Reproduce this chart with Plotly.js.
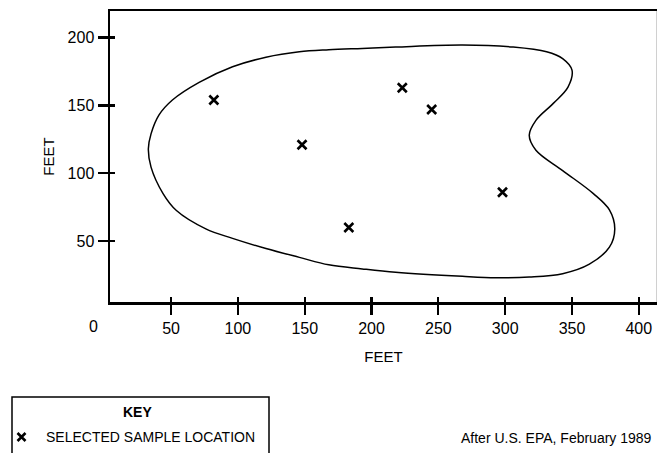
<!DOCTYPE html>
<html>
<head>
<meta charset="utf-8">
<script src="https://cdn.plot.ly/plotly-3.0.1.min.js"></script>
<style>html,body{margin:0;padding:0;background:#fff;}#chart{width:657px;height:453px;}</style>
</head>
<body>
<div id="chart"></div>
<script>
// Selected sample locations (feet)
const sampleX = [82, 148, 223, 245, 298, 183];
const sampleY = [154, 121, 163, 147, 86, 60];

// Site boundary outline (feet), traced clockwise from the left edge
const boundaryX = [33, 35, 41, 51, 71, 96, 121, 146, 168, 193, 218, 268, 306, 331, 343, 350, 347, 336, 323, 318, 323, 343, 366, 378, 382, 378, 363, 343, 318, 293, 268, 218, 193, 168, 146, 121, 96, 76, 54, 44, 35, 33];
const boundaryY = [118, 129, 143, 154, 167, 178.5, 185.5, 189.5, 191, 192, 193, 194.5, 193, 189.5, 184.5, 176, 163.5, 151.5, 139, 128, 117, 102, 85, 73, 59, 45.5, 33, 26, 23.5, 23, 24, 27, 29.5, 32.5, 38, 44.5, 52, 59, 72.5, 85, 104.5, 118];

const xTicks = [50, 100, 150, 200, 250, 300, 350, 400];
const yTicks = [50, 100, 150, 200];
const xRange = [4.3, 413.6];
const yRange = [5.1, 219.6];

const font = 'Liberation Sans, Arial, Helvetica, sans-serif';
const W = 657, H = 453;
const px = v => v / W;
const py = v => (H - v) / H;

const traces = [
  {
    x: boundaryX, y: boundaryY, type: 'scatter', mode: 'lines',
    line: {color: '#000', width: 1.5, shape: 'spline', smoothing: 1},
    hoverinfo: 'skip', showlegend: false
  },
  {
    x: sampleX, y: sampleY, type: 'scatter', mode: 'markers',
    marker: {symbol: 'x-thin', size: 9, line: {color: '#000', width: 2.6}},
    name: 'SELECTED SAMPLE LOCATION', showlegend: false
  },
  {
    x: [null], y: [null], xaxis: 'x2', yaxis: 'y2', type: 'scatter', mode: 'markers',
    hoverinfo: 'skip', showlegend: false
  },
  {
    // key sample symbol
    x: [21.5], y: [16], xaxis: 'x3', yaxis: 'y3', type: 'scatter', mode: 'markers',
    marker: {symbol: 'x-thin', size: 8, line: {color: '#000', width: 2.6}},
    hoverinfo: 'skip', showlegend: false, cliponaxis: false
  }
];

const axisBase = {
  showgrid: false, zeroline: false, automargin: false,
  linecolor: '#000', linewidth: 2.5, tickcolor: '#000', tickwidth: 2.2,
  tickfont: {family: font, size: 16, color: '#000'}, fixedrange: true
};

const layout = {
  width: W, height: H,
  margin: {l: 0, r: 0, t: 0, b: 0},
  paper_bgcolor: '#fff', plot_bgcolor: '#fff',
  font: {family: font, color: '#000'},
  showlegend: false,
  xaxis: Object.assign({}, axisBase, {
    domain: [px(110), 1], range: xRange, anchor: 'y',
    tickmode: 'array', tickvals: xTicks, ticktext: xTicks.map(String),
    ticks: 'outside', ticklen: 10, showline: true, mirror: true,
    title: {text: 'FEET', font: {family: font, size: 15, color: '#000'}, standoff: 16}
  }),
  yaxis: Object.assign({}, axisBase, {
    domain: [py(302), py(11)], range: yRange, anchor: 'x',
    tickmode: 'array', tickvals: yTicks, ticktext: yTicks.map(String),
    ticks: 'outside', ticklen: 10, showline: true, mirror: false,
    title: {text: 'FEET', font: {family: font, size: 15, color: '#000'}, standoff: 10}
  }),
  xaxis2: Object.assign({}, axisBase, {
    domain: [px(110), 1], range: xRange, anchor: 'y2', overlaying: 'x',
    tickmode: 'array', tickvals: xTicks, ticks: 'inside', ticklen: 5,
    showticklabels: false, showline: false
  }),
  yaxis2: Object.assign({}, axisBase, {
    domain: [py(302), py(11)], range: yRange, anchor: 'x2', overlaying: 'y',
    tickmode: 'array', tickvals: yTicks, ticks: 'inside', ticklen: 5,
    showticklabels: false, showline: false
  }),
  xaxis3: {domain: [0, 0.1], range: [0, 65.7], visible: false, fixedrange: true, anchor: 'y3'},
  yaxis3: {domain: [0, 0.2], range: [0, 90.6], visible: false, fixedrange: true, anchor: 'x3'},
  shapes: [
    {type: 'rect', xref: 'paper', yref: 'paper', x0: px(12), x1: px(269), y0: -0.05, y1: py(397),
     line: {color: '#000', width: 1.5}, fillcolor: 'rgba(0,0,0,0)'},
    {type: 'line', xref: 'paper', yref: 'paper', x0: px(656.5), x1: px(656.5), y0: py(302), y1: py(11),
     line: {color: '#d0d0d0', width: 1}}
  ],
  annotations: [
    {text: '0', xref: 'paper', yref: 'paper', x: px(93), y: py(326), xanchor: 'center', yanchor: 'middle',
     showarrow: false, font: {family: font, size: 16, color: '#000'}},
    {text: '<b>KEY</b>', xref: 'paper', yref: 'paper', x: px(137), y: py(412), xanchor: 'center', yanchor: 'middle',
     showarrow: false, font: {family: font, size: 14, color: '#000'}},
    {text: 'SELECTED SAMPLE LOCATION', xref: 'paper', yref: 'paper', x: px(44), y: py(436.5), xanchor: 'left', yanchor: 'middle',
     showarrow: false, font: {family: font, size: 14, color: '#000'}},
    {text: 'After U.S. EPA, February 1989', xref: 'paper', yref: 'paper', x: px(459), y: py(438), xanchor: 'left', yanchor: 'middle',
     showarrow: false, font: {family: font, size: 14, color: '#000'}}
  ]
};

Plotly.newPlot('chart', traces, layout, {displayModeBar: false, staticPlot: true});
</script>
</body>
</html>
